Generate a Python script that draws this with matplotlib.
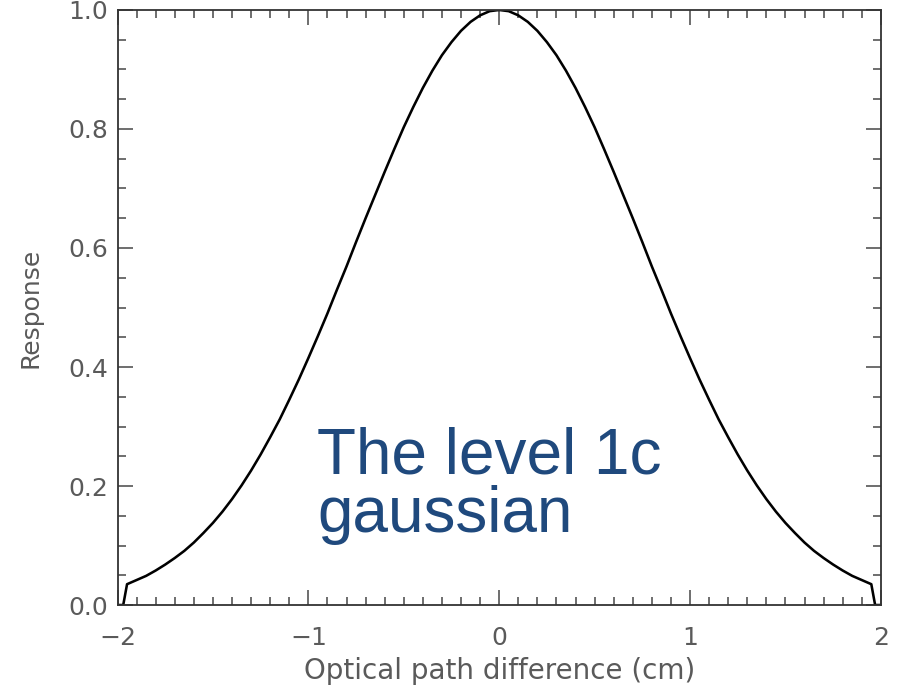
import matplotlib
matplotlib.use("Agg")
import matplotlib.pyplot as plt
from matplotlib.ticker import MultipleLocator

# Data (symmetric response curve)
opd = [-2.0, -1.97, -1.95, -1.9, -1.85, -1.8, -1.75, -1.7, -1.65, -1.6, -1.55, -1.5,
       -1.45, -1.4, -1.35, -1.3, -1.25, -1.2, -1.15, -1.1, -1.05, -1.0,
       -0.95, -0.9, -0.85, -0.8, -0.75, -0.7, -0.65, -0.6, -0.55, -0.5,
       -0.45, -0.4, -0.35, -0.3, -0.25, -0.2, -0.15, -0.1, -0.05, 0.0,
       0.05, 0.1, 0.15, 0.2, 0.25, 0.3, 0.35, 0.4, 0.45, 0.5,
       0.55, 0.6, 0.65, 0.7, 0.75, 0.8, 0.85, 0.9, 0.95, 1.0,
       1.05, 1.1, 1.15, 1.2, 1.25, 1.3, 1.35, 1.4, 1.45, 1.5,
       1.55, 1.6, 1.65, 1.7, 1.75, 1.8, 1.85, 1.9, 1.95, 1.97, 2.0]
response = [0.0, 0.0, 0.035, 0.042, 0.049, 0.058, 0.068, 0.079, 0.091, 0.105, 0.121, 0.138,
            0.157, 0.178, 0.201, 0.226, 0.253, 0.282, 0.312, 0.345, 0.379, 0.415,
            0.452, 0.490, 0.530, 0.569, 0.610, 0.650, 0.689, 0.728, 0.766, 0.803,
            0.837, 0.869, 0.898, 0.924, 0.946, 0.965, 0.980, 0.991, 0.998, 1.0,
            0.998, 0.991, 0.980, 0.965, 0.946, 0.924, 0.898, 0.869, 0.837, 0.803,
            0.766, 0.728, 0.689, 0.650, 0.610, 0.569, 0.530, 0.490, 0.452, 0.415,
            0.379, 0.345, 0.312, 0.282, 0.253, 0.226, 0.201, 0.178, 0.157, 0.138,
            0.121, 0.105, 0.091, 0.079, 0.068, 0.058, 0.049, 0.042, 0.035, 0.0, 0.0]
xticks = [-2, -1, 0, 1, 2]
xtick_labels = ["\u22122", "\u22121", "0", "1", "2"]
yticks = [0.0, 0.2, 0.4, 0.6, 0.8, 1.0]
ytick_labels = ["0.0", "0.2", "0.4", "0.6", "0.8", "1.0"]

fig = plt.figure(figsize=(8.97, 6.88), dpi=100)
ax = fig.add_axes([0.131, 0.1206, 0.851, 0.8649])

ax.plot(opd, response, color="black", lw=1.85, solid_joinstyle="round")
ax.set_xlim(-2, 2)
ax.set_ylim(0, 1)

tick_color = "#555555"
label_font = dict(family="DejaVu Sans", color="#5a5a5a")

ax.set_xticks(xticks)
ax.set_xticklabels(xtick_labels, fontdict=dict(size=18, **label_font))
ax.set_yticks(yticks)
ax.set_yticklabels(ytick_labels, fontdict=dict(size=18, **label_font))
ax.xaxis.set_minor_locator(MultipleLocator(0.1))
ax.yaxis.set_minor_locator(MultipleLocator(0.05))
ax.tick_params(which="both", direction="in", top=True, right=True, color=tick_color, width=1.2)
ax.tick_params(which="major", length=11)
ax.tick_params(which="minor", length=5.5)
ax.tick_params(axis="x", which="major", pad=15)
ax.tick_params(axis="y", which="major", pad=7)

for s in ax.spines.values():
    s.set_linewidth(1.3)
    s.set_color("#333333")

ax.set_xlabel("Optical path difference (cm)", fontdict=dict(size=20, **label_font), labelpad=5)
ax.set_ylabel("Response", fontdict=dict(size=18, **label_font), labelpad=18)

ax.text(0.2617, 0.1227, "The level 1c\ngaussian", transform=ax.transAxes,
        fontsize=46, family="Liberation Sans", color="#1F497D",
        ha="left", va="baseline", linespacing=0.97)

fig.savefig("out.png", dpi=100)
